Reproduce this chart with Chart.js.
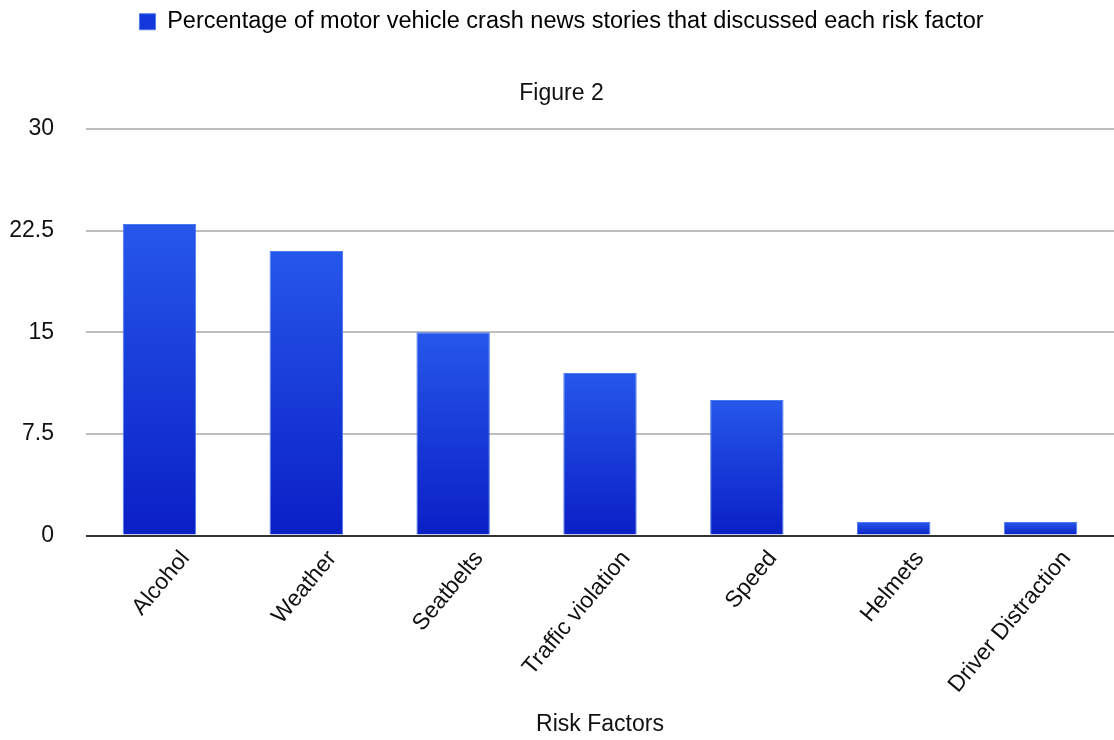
<!DOCTYPE html>
<html>
<head>
<meta charset="utf-8">
<script src="https://cdn.jsdelivr.net/npm/chart.js@4"></script>
<style>
  html, body { margin: 0; padding: 0; background: #fff; }
  #wrap { width: 1114px; height: 740px; }
</style>
</head>
<body>
<div id="wrap"><canvas id="riskChart"></canvas></div>
<script>
// ---------------- DATA ----------------
const riskFactors = ["Alcohol", "Weather", "Seatbelts", "Traffic violation", "Speed", "Helmets", "Driver Distraction"];
const storyPercent = [23, 21, 15, 12, 10, 1, 1];
const yTicks = [0, 7.5, 15, 22.5, 30];

const seriesLabel = "Percentage of motor vehicle crash news stories that discussed each risk factor";

Chart.defaults.font.family = "'Liberation Sans', Arial, Helvetica, sans-serif";
Chart.defaults.color = "#111";

// gradient from bar top to its base
function barFill(context) {
    const chart = context.chart;
    const yScale = chart.scales.y;
    if (!yScale || context.parsed === undefined) return "#1440e0";
    const top = yScale.getPixelForValue(context.parsed.y);
    const base = yScale.getPixelForValue(0);
    if (!isFinite(top) || !isFinite(base) || base - top < 1) return "#0b22c8";
    const g = chart.ctx.createLinearGradient(0, top, 0, base);
    g.addColorStop(0, "#2657ea");
    g.addColorStop(1, "#0a1fc6");
    return g;
}

const ctx = document.getElementById("riskChart").getContext("2d");

new Chart(ctx, {
    type: "bar",
    data: {
        labels: riskFactors,
        datasets: [{
            label: seriesLabel,
            data: storyPercent,
            backgroundColor: barFill,
            borderColor: "#4d7af0",
            borderWidth: 1,
            barPercentage: 0.5,
            categoryPercentage: 1.0
        }]
    },
    options: {
        responsive: true,
        maintainAspectRatio: false,
        animation: false,
        layout: { padding: { left: 9, right: 0, top: 1, bottom: 2 } },
        plugins: {
            legend: {
                weight: 3000,
                labels: {
                    boxWidth: 16,
                    boxHeight: 16,
                    padding: 9,
                    font: { size: 23.5 },
                    generateLabels: function (chart) {
                        return [{
                            text: seriesLabel,
                            fillStyle: "#1238dc",
                            strokeStyle: "#4d7af0",
                            lineWidth: 1,
                            datasetIndex: 0
                        }];
                    }
                }
            },
            title: {
                display: true,
                text: "Figure 2",
                font: { size: 23, weight: "normal" },
                padding: { top: 36, bottom: 22 }
            },
            tooltip: { enabled: false }
        },
        scales: {
            x: {
                grid: { display: false, drawTicks: false },
                border: { display: false },
                afterFit: function (axis) {
                    // rotated labels should not push the plot to the right
                    axis.paddingLeft = 0;
                    axis.paddingRight = 0;
                },
                ticks: {
                    minRotation: 50,
                    maxRotation: 50,
                    padding: 10,
                    labelOffset: 26,
                    font: { size: 23 }
                },
                title: {
                    display: true,
                    text: "Risk Factors",
                    font: { size: 23 },
                    padding: { top: 2, bottom: 0 }
                }
            },
            y: {
                min: 0,
                max: 30,
                afterBuildTicks: function (axis) {
                    axis.ticks = yTicks.map(v => ({ value: v }));
                },
                afterFit: function (axis) {
                    axis.width = 77;
                },
                border: { display: false },
                grid: {
                    drawTicks: false,
                    lineWidth: 2,
                    color: c => (c.tick && c.tick.value === 0) ? "#333" : "#bdbdbd"
                },
                ticks: {
                    padding: 32,
                    font: { size: 23 },
                    callback: v => String(v)
                }
            }
        }
    }
});
</script>
</body>
</html>
